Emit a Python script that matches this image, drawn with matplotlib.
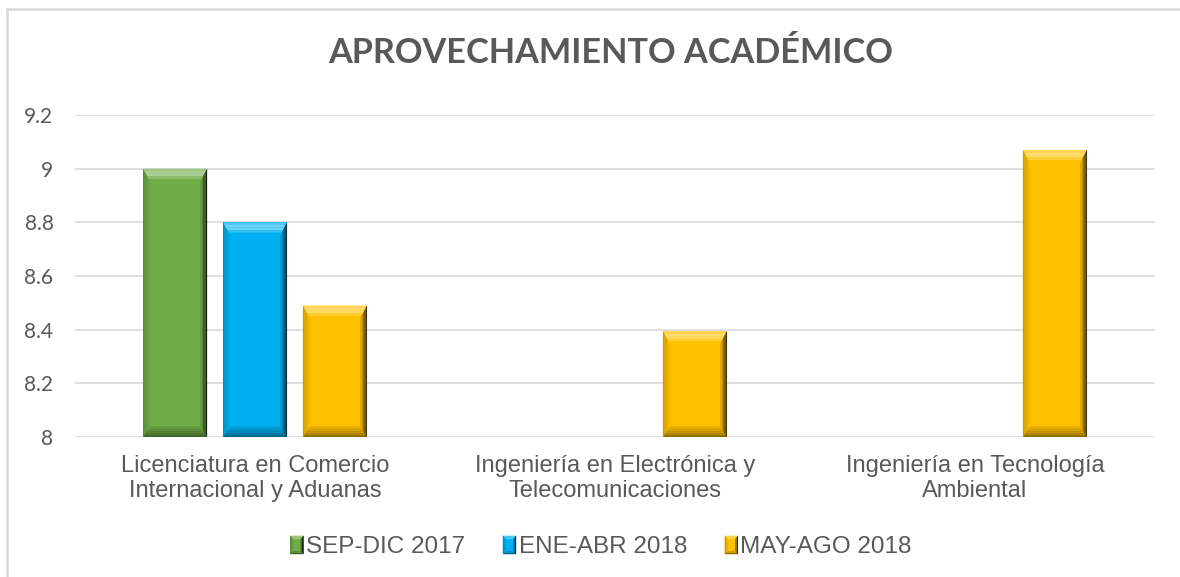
import numpy as np
import matplotlib
matplotlib.use("Agg")
import matplotlib.pyplot as plt
from matplotlib.patches import Polygon, Rectangle
from matplotlib.lines import Line2D
from matplotlib.legend_handler import HandlerBase
import matplotlib.colors as mcolors

# ---------------- data ----------------
title = "APROVECHAMIENTO ACADÉMICO"
categories = ["Licenciatura en Comercio\nInternacional y Aduanas",
              "Ingeniería en Electrónica y\nTelecomunicaciones",
              "Ingeniería en Tecnología\nAmbiental"]
series_names = ["SEP-DIC 2017", "ENE-ABR 2018", "MAY-AGO 2018"]
sep_dic_2017 = [9.0, np.nan, np.nan]
ene_abr_2018 = [8.8, np.nan, np.nan]
may_ago_2018 = [8.49, 8.395, 9.07]
y_ticks = [8, 8.2, 8.4, 8.6, 8.8, 9, 9.2]
y_tick_labels = ["8", "8.2", "8.4", "8.6", "8.8", "9", "9.2"]

# ---------------- style ----------------
colors = ["#70ad47", "#00b0f0", "#ffc000"]
TXT = "#595959"
GRID = "#d9d9d9"

W, H = 1180, 577
fig = plt.figure(figsize=(W / 100, H / 100), dpi=100)
ax = fig.add_axes([75 / W, 1 - 437 / H, 1080 / W, (437 - 115) / H])

x = np.arange(len(categories))
width = 0.178
offsets = [-0.222, 0.0, 0.222]
all_series = [sep_dic_2017, ene_abr_2018, may_ago_2018]

bar_groups = []
for vals, off, col in zip(all_series, offsets, colors):
    vals = np.asarray(vals, dtype=float)
    heights = vals - 8
    bc = ax.bar(x + off, heights, width=width, bottom=8, color=col,
                edgecolor="none", zorder=3)
    bar_groups.append((bc, vals, col))

ax.set_xlim(-0.5, 2.5)
ax.set_ylim(8, 9.2)
ax.set_yticks(y_ticks)
ax.set_yticklabels(y_tick_labels)
ax.set_xticks(x)
ax.set_xticklabels(categories, fontsize=17, color=TXT, family="Liberation Sans",
                   linespacing=1.2)
for lab in ax.get_yticklabels():
    lab.set_fontsize(15)
    lab.set_color(TXT)
    lab.set_family(["Lato", "DejaVu Sans"])
ax.tick_params(axis="both", length=0)
ax.tick_params(axis="y", pad=15.5)
ax.tick_params(axis="x", pad=13)
for s in ax.spines.values():
    s.set_visible(False)
ax.yaxis.grid(True, color=GRID, linewidth=1.2, zorder=0)
ax.set_axisbelow(True)


def mix(c, target, t):
    c = np.array(mcolors.to_rgb(c))
    target = np.array(mcolors.to_rgb(target))
    return tuple(c * (1 - t) + target * t)


def bevel_polys(x0, x1, y0, y1, bs, bt, bb, steps=5):
    """Return list of (poly_pixel_coords, side, frac) from outer to inner."""
    out = []
    for i in range(steps):
        f0, f1 = i / steps, (i + 1) / steps
        out.append(([(x0 + bs * f0, y1 - bt * f0), (x1 - bs * f0, y1 - bt * f0),
                     (x1 - bs * f1, y1 - bt * f1), (x0 + bs * f1, y1 - bt * f1)], "top", f0))
        out.append(([(x0 + bs * f0, y0 + bb * f0), (x1 - bs * f0, y0 + bb * f0),
                     (x1 - bs * f1, y0 + bb * f1), (x0 + bs * f1, y0 + bb * f1)], "bottom", f0))
        out.append(([(x0 + bs * f0, y0 + bb * f0), (x0 + bs * f0, y1 - bt * f0),
                     (x0 + bs * f1, y1 - bt * f1), (x0 + bs * f1, y0 + bb * f1)], "left", f0))
        out.append(([(x1 - bs * f0, y0 + bb * f0), (x1 - bs * f0, y1 - bt * f0),
                     (x1 - bs * f1, y1 - bt * f1), (x1 - bs * f1, y0 + bb * f1)], "right", f0))
    return out


def side_color(col, side, f):
    # f: 0 outer .. 1 inner
    if side == "top":
        t = 0.45 * np.sin(np.pi * min(1.0, 0.25 + f))
        return mix(col, "white", t)
    if side == "bottom":
        return mix(col, "black", 0.42 * (1 - f))
    if side == "left":
        return mix(col, "black", 0.20 * (1 - f))
    return mix(col, "black", 0.80 * (1 - f) ** 1.2)


fig.canvas.draw()
inv = ax.transData.inverted()
for bc, vals, col in bar_groups:
    for rect, v in zip(bc.patches, vals):
        if np.isnan(v):
            continue
        xd0, yd0 = rect.get_x(), rect.get_y()
        xd1, yd1 = xd0 + rect.get_width(), yd0 + rect.get_height()
        (px0, py0), (px1, py1) = ax.transData.transform([(xd0, yd0), (xd1, yd1)])
        for poly, side, f in bevel_polys(px0, px1, py0, py1, 7, 13, 11):
            pd = inv.transform(poly)
            ax.add_patch(Polygon(pd, closed=True, facecolor=side_color(col, side, f),
                                 edgecolor="none", zorder=4))


class BevelHandler(HandlerBase):
    def create_artists(self, legend, orig_handle, xdescent, ydescent, width, height,
                       fontsize, trans):
        col = orig_handle.get_facecolor()
        arts = [Rectangle((-xdescent, -ydescent), width, height, facecolor=col,
                          edgecolor="none", transform=trans)]
        x0, y0, x1, y1 = -xdescent, -ydescent, -xdescent + width, -ydescent + height
        for poly, side, f in bevel_polys(x0, x1, y0, y1, 2.2, 2.5, 2.2, steps=2):
            arts.append(Polygon(poly, closed=True, facecolor=side_color(col, side, f),
                                edgecolor="none", transform=trans))
        return arts


handles = [Rectangle((0, 0), 1, 1, facecolor=c) for c in colors]
leg = fig.legend(handles, series_names, loc="center", bbox_to_anchor=(601 / W, 1 - 547 / H),
                 ncol=3, frameon=False, handlelength=0.55, handleheight=0.8,
                 handletextpad=0.1, columnspacing=1.55,
                 prop={"family": "Liberation Sans", "size": 17.5},
                 handler_map={Rectangle: BevelHandler()})
for t in leg.get_texts():
    t.set_color(TXT)

fig.text(611 / W, 1 - 53 / H, title, ha="center", va="center", fontsize=24.7,
         fontweight="bold", color=TXT, family="Lato")

# outer chart border (top and left visible)
fig.add_artist(Line2D([7 / W, 1.0], [1 - 9 / H, 1 - 9 / H], color=GRID, lw=1.8,
                      transform=fig.transFigure))
fig.add_artist(Line2D([7 / W, 7 / W], [0, 1 - 9 / H], color=GRID, lw=1.8,
                      transform=fig.transFigure))

fig.savefig("out.png", dpi=100, facecolor="white")
